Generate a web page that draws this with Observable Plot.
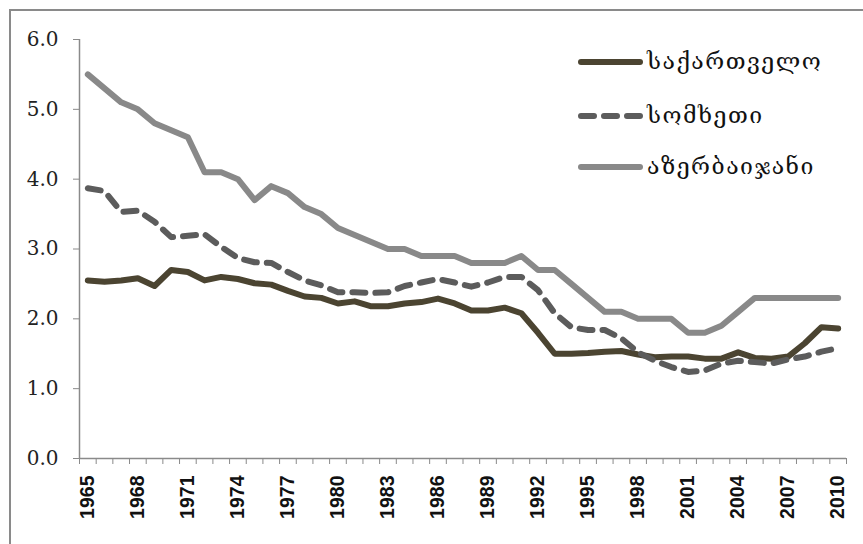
<!DOCTYPE html>
<html>
<head>
<meta charset="utf-8">
<script src="https://cdn.jsdelivr.net/npm/d3@7"></script>
<script src="https://cdn.jsdelivr.net/npm/@observablehq/plot@0.6"></script>
<style>
  html, body { margin: 0; padding: 0; background: #fff; overflow: hidden; }
  #wrap { position: relative; width: 863px; height: 544px; overflow: hidden; }
  #frame { position: absolute; left: 9px; top: 9px; width: 900px; height: 600px; border: 2px solid #8a8a8a; box-sizing: border-box; }
  #chart { position: absolute; left: 0; top: 0; }
  #legend { position: absolute; left: 0; top: 0; }
</style>
</head>
<body>
<div id="wrap">
  <div id="frame"></div>
  <div id="chart"></div>
  <svg id="legend" width="863" height="544"></svg>
</div>
<script>
const years = [1965,1966,1967,1968,1969,1970,1971,1972,1973,1974,
  1975,1976,1977,1978,1979,1980,1981,1982,1983,1984,
  1985,1986,1987,1988,1989,1990,1991,1992,1993,1994,
  1995,1996,1997,1998,1999,2000,2001,2002,2003,2004,
  2005,2006,2007,2008,2009,2010];

const seriesNames = ["საქართველო", "სომხეთი", "აზერბაიჯანი"];

const georgia = [2.55,2.53,2.55,2.58,2.47,2.70,2.67,2.55,2.60,2.57,
  2.51,2.49,2.40,2.32,2.30,2.22,2.25,2.18,2.18,2.22,
  2.24,2.29,2.22,2.12,2.12,2.16,2.08,1.80,1.50,1.50,
  1.51,1.53,1.54,1.49,1.45,1.46,1.46,1.43,1.43,1.52,
  1.44,1.43,1.46,1.65,1.88,1.86];

const armenia = [3.87,3.83,3.53,3.55,3.39,3.17,3.19,3.21,3.03,2.87,
  2.81,2.80,2.67,2.55,2.48,2.38,2.38,2.37,2.38,2.47,
  2.52,2.57,2.52,2.46,2.52,2.60,2.60,2.41,2.08,1.88,
  1.84,1.84,1.72,1.52,1.40,1.31,1.24,1.26,1.36,1.40,
  1.38,1.36,1.42,1.46,1.53,1.58];

const azerbaijan = [5.5,5.3,5.1,5.0,4.8,4.7,4.6,4.1,4.1,4.0,
  3.7,3.9,3.8,3.6,3.5,3.3,3.2,3.1,3.0,3.0,
  2.9,2.9,2.9,2.8,2.8,2.8,2.9,2.7,2.7,2.5,
  2.3,2.1,2.1,2.0,2.0,2.0,1.8,1.8,1.9,2.1,
  2.3,2.3,2.3,2.3,2.3,2.3];

const yTicks = [0, 1, 2, 3, 4, 5, 6];
const xLabelYears = [1965,1968,1971,1974,1977,1980,1983,1986,1989,1992,1995,1998,2001,2004,2007,2010];

const colors = ["#4b4431", "#5c5c5c", "#898989"];
const dashes = [null, "13,10", null];

const seriesValues = [georgia, armenia, azerbaijan];
const rows = [];
seriesValues.forEach((vals, s) => vals.forEach((v, i) => rows.push({series: seriesNames[s], year: years[i], value: v})));

// category boundaries for Excel-style tick marks
const boundaries = years.map(y => y - 0.5).concat([years[years.length - 1] + 0.5]);

const lineMarks = seriesNames.map((name, s) =>
  Plot.line(rows.filter(d => d.series === name), {
    x: "year", y: "value",
    stroke: colors[s], strokeWidth: 6,
    strokeDasharray: dashes[s] || undefined,
    strokeLinecap: "round", strokeLinejoin: "round"
  })
);

const chart = Plot.plot({
  width: 863, height: 544,
  marginLeft: 79, marginRight: 17, marginTop: 39, marginBottom: 86,
  x: {domain: [boundaries[0], boundaries[boundaries.length - 1]]},
  y: {domain: [0, 6]},
  style: {background: "transparent"},
  marks: [
    Plot.ruleX([boundaries[0]], {stroke: "#8a8a8a", strokeWidth: 1.5}),
    Plot.ruleY([0], {stroke: "#8a8a8a", strokeWidth: 1.5}),
    Plot.axisY({ticks: yTicks, tickFormat: d3.format(".1f"), tickSize: 6, tickPadding: 15,
      stroke: "#8a8a8a", fill: "#222", fontSize: 20, fontFamily: "DejaVu Serif", label: null}),
    Plot.axisX({ticks: boundaries, tickFormat: () => "", tickSize: 6, stroke: "#8a8a8a", label: null}),
    Plot.axisX({ticks: xLabelYears, tickFormat: d => String(d), tickSize: 0, tickPadding: 17, tickRotate: -90,
      fill: "#111", fontSize: 19.5, fontWeight: "bold", fontFamily: "Liberation Sans", label: null}),
    ...lineMarks
  ]
});
document.getElementById("chart").appendChild(chart);

// legend
const lg = d3.select("#legend");
const legendY = [62, 116, 167];
seriesNames.forEach((name, s) => {
  lg.append("line")
    .attr("x1", 581).attr("x2", 640)
    .attr("y1", legendY[s]).attr("y2", legendY[s])
    .attr("stroke", colors[s]).attr("stroke-width", 6)
    .attr("stroke-linecap", "round")
    .attr("stroke-dasharray", dashes[s]);
  lg.append("text")
    .attr("x", 647).attr("y", legendY[s] + 7)
    .attr("font-family", "DejaVu Serif, DejaVu Sans")
    .attr("font-size", 23)
    .attr("letter-spacing", 1.5)
    .attr("fill", "#111")
    .text(name);
});
</script>
</body>
</html>
